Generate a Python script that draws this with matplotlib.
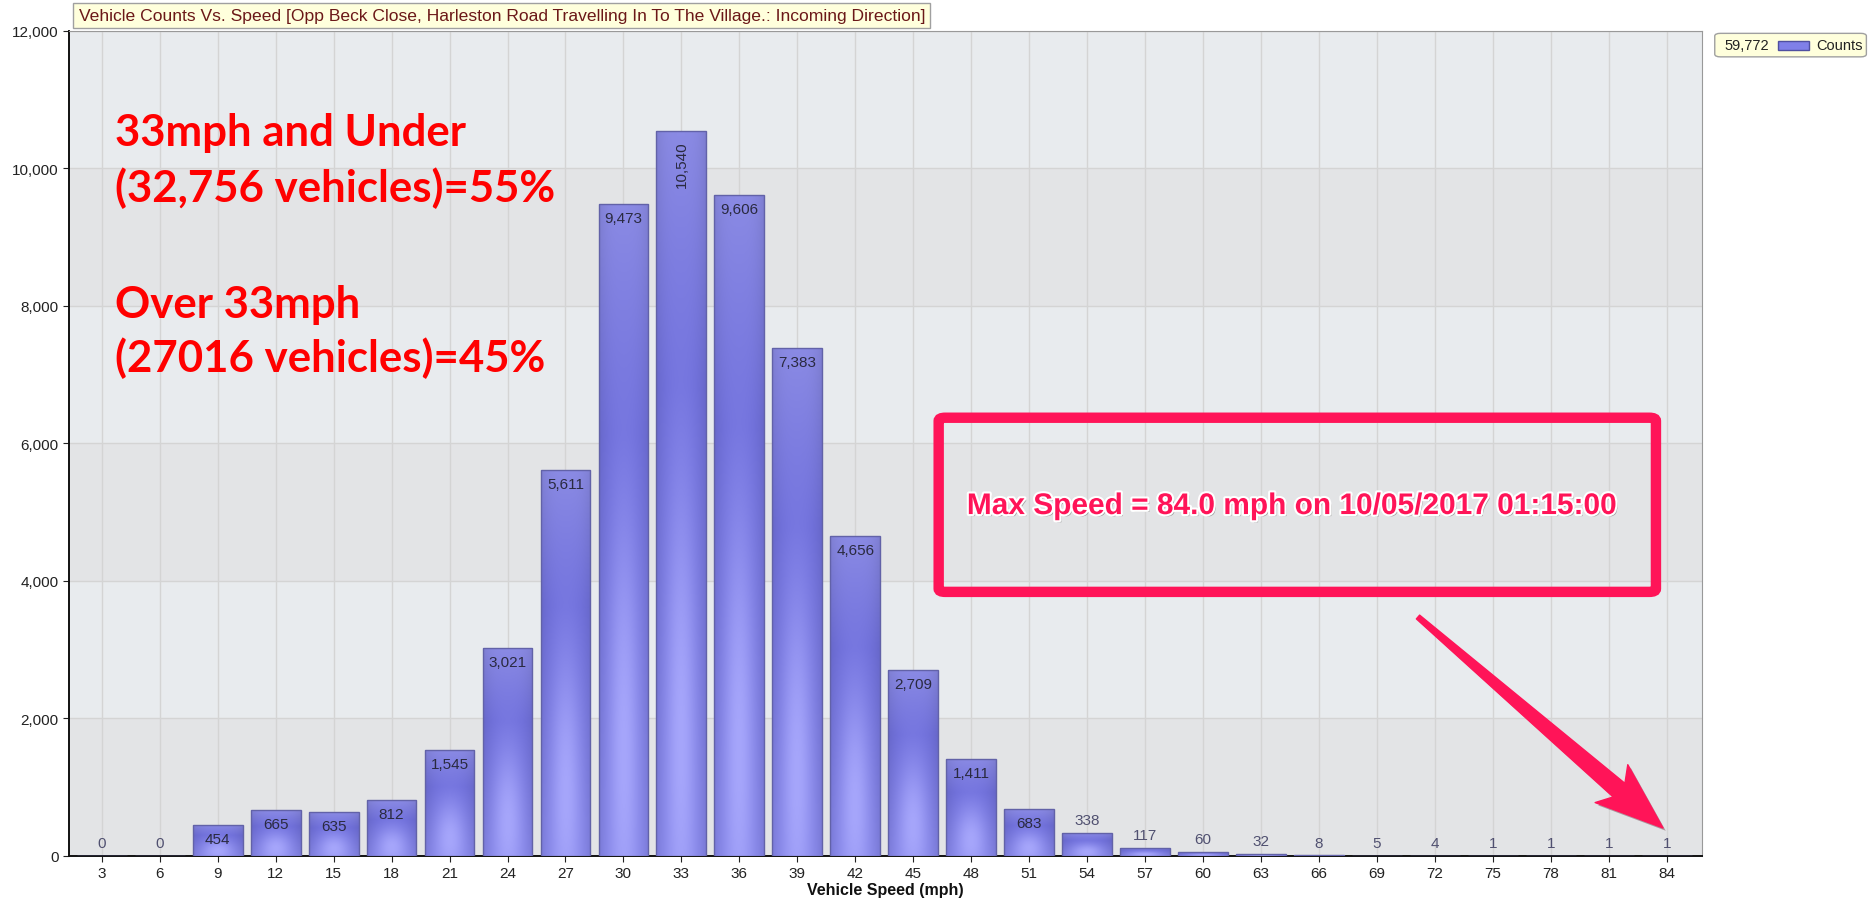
import numpy as np
import matplotlib
matplotlib.use("Agg")
import matplotlib.pyplot as plt
from matplotlib.patches import Rectangle, FancyBboxPatch, Polygon
from matplotlib.ticker import FuncFormatter
import matplotlib.patheffects as pe

# data
speeds = [3, 6, 9, 12, 15, 18, 21, 24, 27, 30, 33, 36, 39, 42,
          45, 48, 51, 54, 57, 60, 63, 66, 69, 72, 75, 78, 81, 84]
counts = [0, 0, 454, 665, 635, 812, 1545, 3021, 5611, 9473, 10540, 9606, 7383, 4656,
          2709, 1411, 683, 338, 117, 60, 32, 8, 5, 4, 1, 1, 1, 1]
total_count = 59772
y_ticks = [0, 2000, 4000, 6000, 8000, 10000, 12000]

plt.rcParams['font.family'] = ['Liberation Sans', 'DejaVu Sans']

W, H = 1872, 904
fig = plt.figure(figsize=(W / 100, H / 100), dpi=100)
ax = fig.add_axes([0.037, 0.052, 0.872, 0.913])
ax.set_facecolor('#e8ebee')

# alternating background bands
for i in range(len(y_ticks) - 1):
    if i % 2 == 0:
        ax.axhspan(y_ticks[i], y_ticks[i + 1], color='#e3e4e6', zorder=0, lw=0)

x = np.arange(len(speeds))
bw = 0.86
bars = ax.bar(x, counts, width=bw, color='#8585e8', edgecolor='#6262a8', linewidth=1, zorder=3)

# gradient fill inside bars
gx = np.linspace(0, 1, 40)
gy = np.linspace(0, 1, 80)
GX, GY = np.meshgrid(gx, gy)
top_c = np.array([0x8a, 0x8a, 0xe4]) / 255
mid_c = np.array([0x70, 0x70, 0xdc]) / 255
bot_c = np.array([0x84, 0x84, 0xea]) / 255
hi_c = np.array([0xa6, 0xa6, 0xfb]) / 255
w_top = np.clip((GY - 0.65) / 0.35, 0, 1)[..., None]
w_bot = np.clip((0.65 - GY) / 0.65, 0, 1)[..., None]
base = mid_c + (top_c - mid_c) * w_top + (bot_c - mid_c) * w_bot
t = (np.exp(-((GX - 0.5) / 0.32) ** 2) * np.exp(-((GY - 0.15) / 0.35) ** 2))[..., None]
edge = (np.abs(GX - 0.5) * 2) ** 3
img = base + (hi_c - base) * t
img = img * (1 - 0.08 * edge[..., None])
img = np.clip(img, 0, 1)
for b in bars:
    h = b.get_height()
    if h <= 0:
        continue
    im = ax.imshow(img, extent=(b.get_x(), b.get_x() + b.get_width(), 0, h),
                   origin='lower', aspect='auto', zorder=3.5, interpolation='bilinear')
    im.set_clip_path(b)
    b.set_facecolor('none')
    b.set_zorder(4)

ax.set_xlim(-0.56, len(speeds) - 0.4)
ax.set_ylim(0, 12000)
ax.set_xticks(x)
ax.set_xticklabels([str(s) for s in speeds])
ax.set_yticks(y_ticks)
ax.yaxis.set_major_formatter(FuncFormatter(lambda v, p: f'{int(v):,}'))
ax.tick_params(labelsize=11, colors='#222222', length=4)
ax.grid(True, color='#d4d4d4', linewidth=1, zorder=1)
ax.set_axisbelow(True)
for s in ['top', 'right']:
    ax.spines[s].set_color('#999999')
for s in ['left', 'bottom']:
    ax.spines[s].set_color('#111111')
    ax.spines[s].set_linewidth(1.4)
ax.set_xlabel('Vehicle Speed (mph)', fontsize=11.5, fontweight='bold', color='#111111', labelpad=1)

# value labels
for xi, v in zip(x, counts):
    lab = f'{v:,}'
    if v >= 400:
        if len(lab) > 5:
            ax.annotate(lab, (xi, v), xytext=(0, -7), textcoords='offset points',
                        ha='center', va='top', rotation=90, fontsize=11, color='#2a2a40', zorder=6)
        else:
            ax.annotate(lab, (xi, v), xytext=(0, -5), textcoords='offset points',
                        ha='center', va='top', fontsize=11, color='#2a2a40', zorder=6)
    else:
        ax.annotate(lab, (xi, v), xytext=(0, 4), textcoords='offset points',
                    ha='center', va='bottom', fontsize=11, color='#505070', zorder=6)

# title tab
fig.text(0.042, 0.982, 'Vehicle Counts Vs. Speed [Opp Beck Close, Harleston Road Travelling In To The Village.: Incoming Direction]',
         fontsize=12.6, color='#6b1818', ha='left', va='center',
         bbox=dict(boxstyle='square,pad=0.3', fc='#ffffdc', ec='#a0a0a0', lw=1))

# legend tab
fig.patches.append(FancyBboxPatch((0.918, 0.938), 0.077, 0.022, boxstyle='round,pad=0.002,rounding_size=0.003',
                                  transform=fig.transFigure, fc='#ffffdc', ec='#a0a0a0', lw=1))
fig.text(0.921, 0.949, f'{total_count:,}', fontsize=10.5, color='#222222', va='center', ha='left')
fig.patches.append(Rectangle((0.950, 0.944), 0.0165, 0.010, transform=fig.transFigure,
                             fc='#8080e8', ec='#5050a0', lw=1))
fig.text(0.970, 0.949, 'Counts', fontsize=10.5, color='#222222', va='center', ha='left')

# red notes
red_lines = ['33mph and Under', '(32,756 vehicles)=55%', 'Over 33mph', '(27016 vehicles)=45%']
red_y = [0.861, 0.793, 0.653, 0.588]
for s, yy in zip(red_lines, red_y):
    ax.text(0.0278, yy, s, transform=ax.transAxes, fontsize=31.5, fontweight='bold',
            color='#ff0000', family=['Lato', 'DejaVu Sans'], va='baseline', ha='left', zorder=7)

# max speed box
ax.add_patch(FancyBboxPatch((0.5326, 0.320), 0.4394, 0.211, boxstyle='round,pad=0,rounding_size=0.004',
                            transform=ax.transAxes, fc='none', ec='#ff1458', lw=7.5, zorder=7))
ax.text(0.749, 0.424, 'Max Speed = 84.0 mph on 10/05/2017 01:15:00', transform=ax.transAxes,
        fontsize=21.5, fontweight='bold', color='#ff1458', ha='center', va='center', zorder=8,
        path_effects=[pe.withSimplePatchShadow(offset=(1.5, -1.5), shadow_rgbFace='#777777', alpha=0.6),
                      pe.withStroke(linewidth=3, foreground='white')])

# tapered arrow (pixel geometry of the hand-drawn pointer)
tail = np.array([1418.0, 618.0])
tip = np.array([1663.0, 829.0])
d = tip - tail
L = np.hypot(*d)
u = d / L
n = np.array([-u[1], u[0]])
B = tail + u * (L - 58)
pts = [tail + n * 2.5, B + n * 9, B + n * 25 - u * 10, tip,
       B - n * 25 - u * 10, B - n * 9, tail - n * 2.5]
pts = np.array([[p[0] / W, 1 - p[1] / H] for p in pts])
arrow = Polygon(pts, closed=True, transform=fig.transFigure, fc='#ff1458', ec='#ff1458',
                lw=1, joinstyle='round', zorder=9, clip_on=False,
                path_effects=[pe.withSimplePatchShadow(offset=(2, -2), alpha=0.35)])
ax.add_patch(arrow)

fig.savefig('out.png', dpi=100)
